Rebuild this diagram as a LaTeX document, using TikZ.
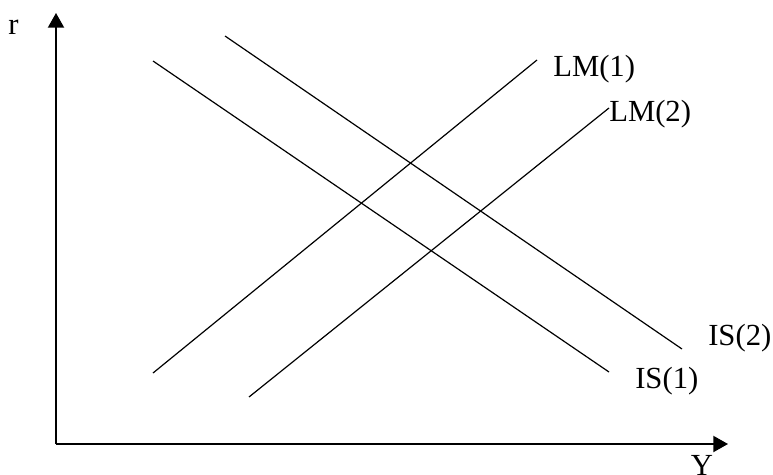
\documentclass[tikz,border=0pt]{standalone}
\usepackage{fontspec}
\setmainfont{Liberation Serif}
\usepackage{tikz}
\usetikzlibrary{arrows.meta, positioning}

\tikzset{
  axis/.style={line width=1.5pt, -{Triangle[length=11pt, width=12pt]}},
  curve/.style={line width=0.9pt},
  lbl/.style={inner sep=0pt, anchor=base west, font=\fontsize{23}{27}\selectfont}
}

\begin{document}
\begin{tikzpicture}[x=0.75pt, y=-0.75pt]
      \useasboundingbox (0,0) rectangle (773,474);

      \coordinate (o) at (56,444);
      \coordinate (rtop) at (56,13);
      \coordinate (yend) at (728,444);

      \coordinate (is1a) at (153,61);
      \coordinate (is1b) at (609,372);
      \coordinate (is2a) at (225,36);
      \coordinate (is2b) at (682,349);
      \coordinate (lm1a) at (153,373);
      \coordinate (lm1b) at (537,60);
      \coordinate (lm2a) at (249,397);
      \coordinate (lm2b) at (609,108);

      \node[lbl, anchor=base] (r) at (13.5,35) {r};
      \node[lbl, anchor=base] (ylab) at (702,475) {Y};
      \node[lbl] (lm1) at (553,77) {LM(1)};
      \node[lbl] (lm2) at (609,122) {LM(2)};
      \node[lbl] (is2) at (708,345) {IS(2)};
      \node[lbl] (is1) at (635,388) {IS(1)};

      \draw[axis] (o) -- (rtop);
      \draw[axis] (o) -- (yend);

      \draw[curve] (is1a) -- (is1b);
      \draw[curve] (is2a) -- (is2b);
      \draw[curve] (lm1a) -- (lm1b);
      \draw[curve] (lm2a) -- (lm2b);
    \end{tikzpicture}
\end{document}
